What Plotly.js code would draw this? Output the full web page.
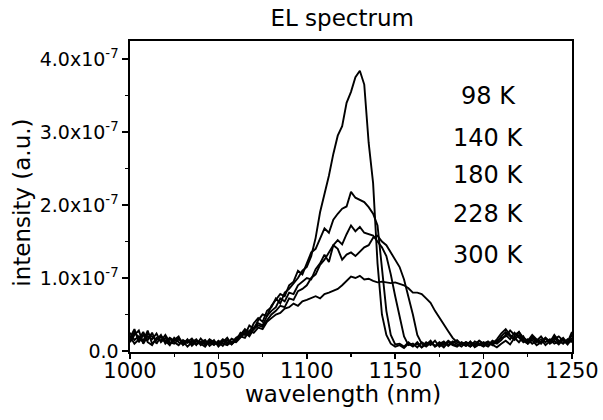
<!DOCTYPE html>
<html><head><meta charset="utf-8">
<script src="https://cdn.plot.ly/plotly-3.0.1.min.js"></script>
<style>html,body{margin:0;padding:0;background:#fff}</style>
</head><body>
<div id="chart" style="width:603px;height:420px"></div>
<script>
const wavelength = [1000,1002.5,1005,1007.5,1010,1012.5,1015,1017.5,1020,1022.5,1025,1027.5,1030,1032.5,1035,1037.5,1040,1042.5,1045,1047.5,1050,1052.5,1055,1057.5,1060,1062.5,1065,1067.5,1070,1072.5,1075,1077.5,1080,1082.5,1085,1087.5,1090,1092.5,1095,1097.5,1100,1102.5,1105,1107.5,1110,1112.5,1115,1117.5,1120,1122.5,1125,1127.5,1130,1132.5,1135,1137.5,1140,1142.5,1145,1147.5,1150,1152.5,1155,1157.5,1160,1162.5,1165,1167.5,1170,1172.5,1175,1177.5,1180,1182.5,1185,1187.5,1190,1192.5,1195,1197.5,1200,1202.5,1205,1207.5,1210,1212.5,1215,1217.5,1220,1222.5,1225,1227.5,1230,1232.5,1235,1237.5,1240,1242.5,1245,1247.5,1250];

// intensities in units of 1e-7 (a.u.)
const el98K = [0.18,0.30,0.12,0.22,0.15,0.25,0.10,0.20,0.14,0.08,0.18,0.12,0.09,0.16,0.07,0.13,0.10,0.06,0.14,0.09,0.12,0.07,0.15,0.11,0.18,
  0.22,0.30,0.25,0.38,0.45,0.40,0.55,0.60,0.72,0.65,0.80,0.85,0.92,1.00,1.10,
  1.15,1.30,1.55,1.90,2.15,2.40,2.70,2.95,3.08,3.40,
  3.55,3.75,3.84,3.65,2.85,2.30,1.20,0.50,0.22,0.10,
  0.06,0.08,0.04,0.10,0.06,0.12,0.05,0.09,0.13,0.06,
  0.10,0.05,0.12,0.08,0.06,0.11,0.07,0.13,0.05,0.09,
  0.06,0.12,0.08,0.05,0.10,0.14,0.09,0.18,0.12,0.20,
  0.10,0.15,0.08,0.12,0.18,0.10,0.14,0.09,0.16,0.12,0.22];
const el140K = [0.12,0.22,0.28,0.10,0.20,0.16,0.24,0.12,0.18,0.10,0.15,0.20,0.08,0.13,0.17,0.09,0.12,0.15,0.07,0.12,0.09,0.14,0.10,0.17,0.14,
  0.25,0.22,0.35,0.30,0.42,0.50,0.48,0.62,0.70,0.78,0.75,0.90,0.95,1.10,1.05,
  1.20,1.35,1.40,1.55,1.68,1.62,1.80,1.88,1.95,1.98,
  2.18,2.10,2.07,2.04,1.97,1.88,1.72,1.15,0.55,0.22,
  0.09,0.10,0.06,0.12,0.07,0.10,0.05,0.12,0.08,0.14,
  0.06,0.11,0.08,0.13,0.09,0.06,0.12,0.10,0.07,0.14,
  0.09,0.06,0.12,0.10,0.15,0.22,0.16,0.25,0.18,0.12,
  0.16,0.10,0.14,0.20,0.12,0.16,0.10,0.13,0.18,0.10,0.15];
const el180K = [0.20,0.10,0.16,0.26,0.12,0.08,0.18,0.14,0.22,0.12,0.10,0.16,0.13,0.06,0.12,0.16,0.08,0.13,0.10,0.15,0.06,0.12,0.18,0.09,0.15,
  0.20,0.28,0.22,0.32,0.38,0.35,0.48,0.55,0.60,0.72,0.68,0.80,0.78,0.90,0.95,
  1.00,0.98,1.12,1.20,1.32,1.22,1.45,1.52,1.46,1.60,
  1.72,1.64,1.70,1.62,1.60,1.58,1.50,1.42,1.30,1.05,
  0.75,0.45,0.20,0.08,0.10,0.05,0.12,0.08,0.14,0.06,
  0.10,0.13,0.07,0.12,0.15,0.09,0.12,0.06,0.10,0.08,
  0.12,0.08,0.14,0.11,0.20,0.26,0.20,0.15,0.22,0.14,
  0.10,0.18,0.12,0.16,0.08,0.13,0.19,0.11,0.15,0.09,0.18];
const el228K = [0.14,0.26,0.18,0.12,0.24,0.20,0.15,0.22,0.10,0.16,0.12,0.08,0.15,0.11,0.14,0.08,0.17,0.10,0.12,0.08,0.14,0.10,0.08,0.13,0.12,
  0.18,0.25,0.20,0.30,0.35,0.33,0.42,0.50,0.55,0.62,0.60,0.72,0.70,0.82,0.85,
  0.90,1.00,1.05,1.18,1.25,1.35,1.45,1.40,1.25,1.32,
  1.35,1.30,1.36,1.42,1.45,1.55,1.58,1.50,1.45,1.35,
  1.25,1.15,0.98,0.75,0.50,0.22,0.10,0.06,0.11,0.07,
  0.12,0.08,0.14,0.10,0.07,0.12,0.09,0.06,0.13,0.10,
  0.07,0.12,0.10,0.16,0.24,0.30,0.22,0.18,0.26,0.15,
  0.12,0.20,0.14,0.10,0.17,0.12,0.22,0.14,0.10,0.16,0.12];
const el300K = [0.25,0.15,0.20,0.14,0.28,0.10,0.16,0.20,0.12,0.18,0.14,0.18,0.10,0.15,0.09,0.14,0.12,0.09,0.16,0.12,0.10,0.16,0.12,0.09,0.16,
  0.20,0.18,0.28,0.25,0.32,0.30,0.40,0.45,0.50,0.52,0.58,0.60,0.65,0.62,0.68,
  0.70,0.72,0.75,0.72,0.78,0.80,0.82,0.85,0.90,0.96,
  1.02,1.00,1.03,0.98,0.99,0.96,0.94,0.95,0.94,0.93,
  0.94,0.92,0.90,0.86,0.80,0.80,0.78,0.72,0.66,0.55,
  0.45,0.36,0.27,0.18,0.12,0.10,0.07,0.12,0.09,0.14,
  0.10,0.13,0.08,0.14,0.18,0.20,0.28,0.22,0.26,0.18,
  0.14,0.22,0.16,0.12,0.18,0.13,0.16,0.20,0.14,0.12,0.26];

const seriesNames = ['98 K','140 K','180 K','228 K','300 K'];
const seriesValues = [el98K, el140K, el180K, el228K, el300K];
const xTickVals = [1000,1050,1100,1150,1200,1250];
const yTickVals = [0,1,2,3,4];
const yTickText = ['0.0','1.0x10<sup>-7</sup>','2.0x10<sup>-7</sup>','3.0x10<sup>-7</sup>','4.0x10<sup>-7</sup>'];
const xTitle = 'wavelength (nm)';
const yTitle = 'intensity (a.u.)';
const chartTitle = 'EL spectrum';

const FONT = 'DejaVu Sans, Liberation Sans, Arial, sans-serif';

const traces = seriesValues.map((vals, i) => ({
  type: 'scatter', mode: 'lines', name: seriesNames[i],
  x: wavelength, y: vals,
  line: {color: '#000', width: 1.9, shape: 'linear'},
  hoverinfo: 'skip'
}));

const labelY = [0.824, 0.689, 0.569, 0.444, 0.312];
const annotations = seriesNames.map((t, i) => ({
  text: t, xref: 'paper', yref: 'paper', x: 0.811, y: labelY[i],
  xanchor: 'center', yanchor: 'middle', showarrow: false,
  font: {family: FONT, size: 24, color: '#000'}
}));
annotations.push({
  text: xTitle, xref: 'paper', yref: 'paper', x: 0.482, y: -0.134,
  xanchor: 'center', yanchor: 'middle', showarrow: false, borderpad: 0,
  font: {family: FONT, size: 23, color: '#000'}
});
annotations.push({
  text: yTitle, xref: 'paper', yref: 'paper', x: -0.245, y: 0.479, textangle: -90,
  xanchor: 'center', yanchor: 'middle', showarrow: false, borderpad: 0,
  font: {family: FONT, size: 23, color: '#000'}
});

const layout = {
  width: 603, height: 420,
  margin: {l: 130, r: 31, t: 41, b: 68, pad: 0},
  paper_bgcolor: '#fff', plot_bgcolor: '#fff',
  showlegend: false,
  font: {family: FONT, color: '#000'},
  title: {text: chartTitle, font: {family: FONT, size: 23, color: '#000'},
    x: 0.48, xref: 'paper', xanchor: 'center', y: 1 - 18/420, yref: 'container', yanchor: 'middle'},
  xaxis: {
    range: [1000, 1250], tickvals: xTickVals, ticktext: xTickVals.map(String),
    ticks: 'outside', ticklen: 5, tickwidth: 1.5, tickcolor: '#000',
    minor: {dtick: 25, ticks: 'outside', ticklen: 3, tickwidth: 1.2, tickcolor: '#000', showgrid: false},
    showline: true, linecolor: '#000', linewidth: 1.6, mirror: true,
    showgrid: false, zeroline: false,
    tickfont: {family: FONT, size: 21, color: '#000'},
    ticklabelstandoff: -6
  },
  yaxis: {
    range: [-0.014, 4.247], tickvals: yTickVals, ticktext: yTickText,
    ticks: 'outside', ticklen: 6, tickwidth: 1.5, tickcolor: '#000',
    minor: {dtick: 0.5, ticks: 'outside', ticklen: 3, tickwidth: 1.2, tickcolor: '#000', showgrid: false},
    showline: true, linecolor: '#000', linewidth: 1.6, mirror: true,
    showgrid: false, zeroline: false,
    tickfont: {family: FONT, size: 19, color: '#000'}
  },
  annotations: annotations
};

Plotly.newPlot('chart', traces, layout, {staticPlot: true, displayModeBar: false});
</script>
</body></html>
